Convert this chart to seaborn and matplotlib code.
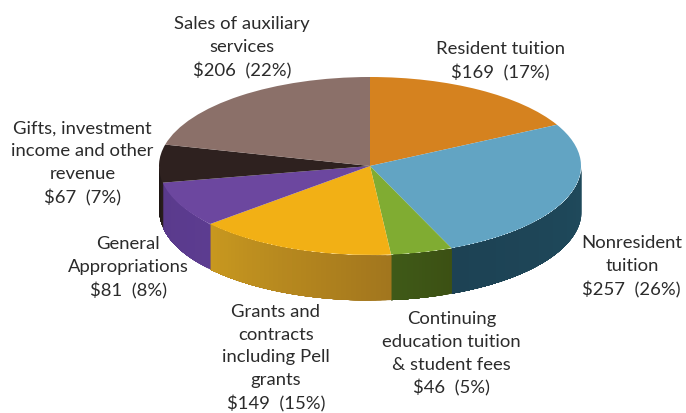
import numpy as np
import matplotlib
matplotlib.use("Agg")
import matplotlib.pyplot as plt
import seaborn as sns

# Revenue sources in millions of dollars, clockwise from twelve o'clock
categories = ["Resident tuition", "Nonresident\ntuition",
              "Continuing\neducation tuition\n& student fees",
              "Grants and\ncontracts\nincluding Pell\ngrants",
              "General\nAppropriations",
              "Gifts, investment\nincome and other\nrevenue",
              "Sales of auxiliary\nservices"]
amounts = [169, 257, 46, 149, 81, 67, 206]
shares = [17, 26, 5, 15, 8, 7, 22]

top_colors = ["#D5821F", "#62A4C3", "#80AC32", "#F2B015", "#6C479F", "#2E211F", "#8B7069"]
wall_left = ["#A06418", "#1D4254", "#3F5A18", "#C8981F", "#5A3A8C", "#1E1615", "#5E4A45"]
wall_right = ["#A06418", "#1F4A5C", "#3C5013", "#A2761E", "#5C3C90", "#2A1F1D", "#5E4A45"]

# Label anchors as figure fractions
label_x = [0.729, 0.921, 0.658, 0.402, 0.187, 0.120, 0.353]
label_y = [0.853, 0.355, 0.145, 0.135, 0.353, 0.605, 0.884]

sns.set_theme(style="white")
plt.rcParams["font.family"] = ["Lato", "DejaVu Sans"]

W, H = 686, 414
cx, cy, rx, ry, depth = 370, 167, 211, 89, 45

fig = plt.figure(figsize=(W / 100, H / 100), dpi=100, facecolor="white")
ax = fig.add_axes([0, 0, 1, 1])

# Side wall of the disc: only the front half of the rim is visible.
# Each band runs to the end of its slice so the next one paints over the seam.
fractions = np.cumsum([0] + amounts) / sum(amounts)
depth_u = depth / ry
for i in range(len(amounts)):
    start = max(fractions[i] * 2 * np.pi, np.pi / 2)
    stop = min(fractions[i + 1] * 2 * np.pi, 3 * np.pi / 2)
    if stop <= start:
        continue
    shades = sns.blend_palette([wall_right[i], wall_left[i]], 40)
    edges = np.linspace(start, stop, 41)
    for j, shade in enumerate(shades):
        t = np.linspace(edges[j], stop, 80)
        ax.fill_between(np.sin(t), np.cos(t), np.cos(t) - depth_u,
                        color=shade, lw=0, zorder=1)

# Top face; the axes limits below stretch the circle into an ellipse
ax.pie(amounts, colors=top_colors, startangle=90, counterclock=False, radius=1,
       wedgeprops={"linewidth": 0, "zorder": 2})
ax.set_aspect("auto")
ax.set_xlim((0 - cx) / rx, (W - cx) / rx)
ax.set_ylim((cy - H) / ry, cy / ry)
ax.axis("off")

for name, amount, share, x, y in zip(categories, amounts, shares, label_x, label_y):
    fig.text(x, y, f"{name}\n${amount}  ({share}%)", ha="center", va="center",
             fontsize=13.3, color="#2b2b2b", linespacing=1.52)

fig.savefig("out.png", dpi=100)
